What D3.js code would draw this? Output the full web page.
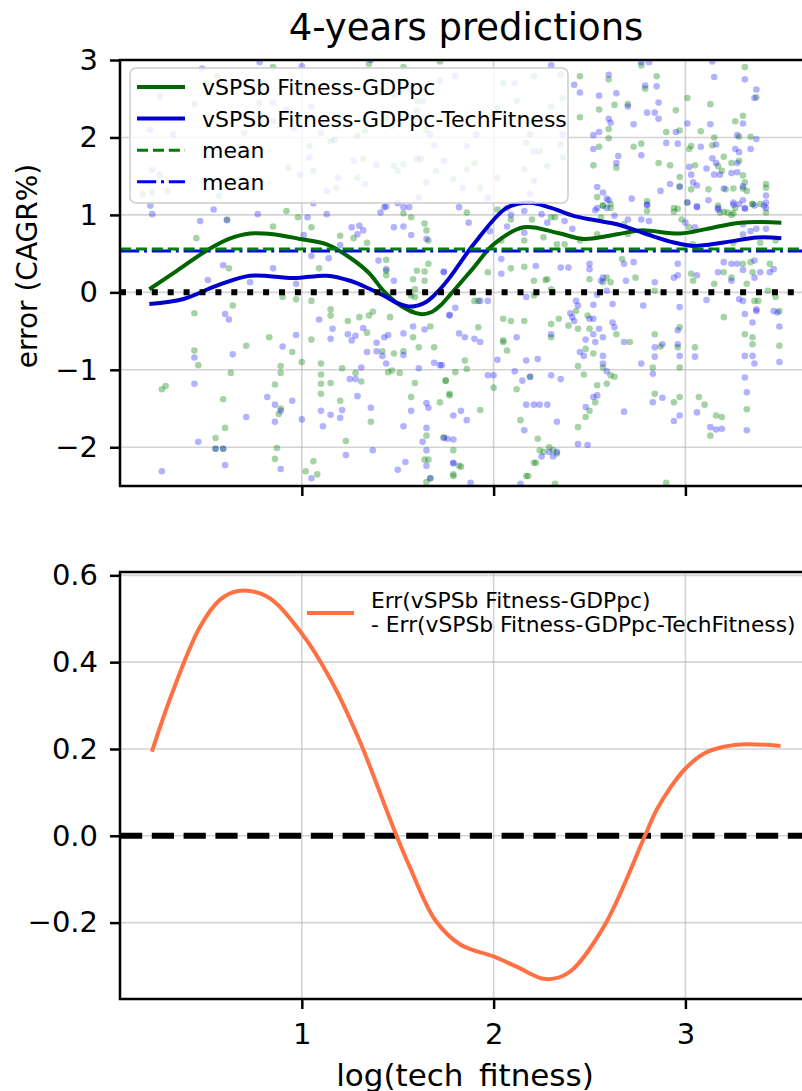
<!DOCTYPE html>
<html>

<head>
  <meta charset="UTF-8">
  <script src="https://d3js.org/d3.v7.min.js"></script>
  <style>
    body { margin: 0; background: #fff; overflow: hidden; }
    svg { display: block; font-family: "DejaVu Sans", sans-serif; }
  </style>
</head>

<body>
  <div id="chart"></div>

  <script>
    // data

    const xTicks = [1, 2, 3];
    const yTicksTop = [-2, -1, 0, 1, 2, 3];
    const yTicksBottom = [-0.2, 0, 0.2, 0.4, 0.6];

    const seriesNames = ['vSPSb Fitness-GDPpc', 'vSPSb Fitness-GDPpc-TechFitness'];
    const diffLabel = ['Err(vSPSb Fitness-GDPpc)', '- Err(vSPSb Fitness-GDPpc-TechFitness)'];

    // smoothed error of each model
    const fitCurveX = [0.205, 0.35, 0.504, 0.62, 0.73, 0.85, 0.99, 1.13, 1.25, 1.35, 1.426, 1.52, 1.618, 1.68, 1.722, 1.774, 1.896, 2.0, 2.157, 2.33, 2.47, 2.644, 2.765, 2.974, 3.113, 3.287, 3.5];
    const fitCurveY = [0.04, 0.28, 0.54, 0.69, 0.76, 0.75, 0.69, 0.62, 0.45, 0.25, 0.02, -0.18, -0.28, -0.25, -0.17, -0.03, 0.32, 0.62, 0.84, 0.77, 0.69, 0.75, 0.80, 0.76, 0.82, 0.90, 0.90];

    const techCurveX = [0.205, 0.383, 0.557, 0.73, 0.957, 1.13, 1.252, 1.35, 1.426, 1.5, 1.566, 1.65, 1.72, 1.774, 1.896, 2.07, 2.19, 2.3, 2.417, 2.53, 2.644, 2.8, 2.94, 3.044, 3.2, 3.374, 3.5];
    const techCurveY = [-0.15, -0.085, 0.086, 0.215, 0.185, 0.215, 0.15, 0.05, -0.04, -0.14, -0.184, -0.12, 0.04, 0.2, 0.62, 1.094, 1.158, 1.09, 0.987, 0.93, 0.88, 0.75, 0.644, 0.60, 0.644, 0.708, 0.70];

    const meanFit = 0.56;
    const meanTech = 0.535;

    // difference of the two smoothed errors
    const diffX = [0.218, 0.33, 0.47, 0.574, 0.669, 0.818, 0.991, 1.15, 1.3, 1.454, 1.494, 1.561, 1.695, 1.828, 2.0, 2.122, 2.269, 2.389, 2.575, 2.789, 2.85, 2.92, 3.0, 3.1, 3.2, 3.322, 3.496];
    const diffY = [0.194, 0.336, 0.482, 0.544, 0.564, 0.551, 0.471, 0.36, 0.22, 0.045, 0.0, -0.07, -0.194, -0.251, -0.278, -0.302, -0.33, -0.316, -0.209, 0.0, 0.06, 0.11, 0.155, 0.19, 0.205, 0.211, 0.207];

    // residuals, [log(tech fitness), error]
    const fitPoints = [
      [0.45,0.70],[0.61,0.94],[0.85,0.85],[0.98,0.97],[1.05,0.84],[1.20,0.73],[1.27,0.70],[1.34,0.64],[1.53,1.02],[1.57,0.97],[1.64,0.89],[1.65,0.80],[1.66,0.67],[1.09,0.31],[0.62,0.31],[0.44,-0.27],[0.64,-0.17],[0.90,-0.06],[0.97,-0.09],[1.05,-0.11],[1.15,-0.22],[1.15,-0.30],[1.24,-0.37],[1.30,-0.32],[1.34,-0.52],[1.35,-0.30],[1.37,-0.25],[1.46,-0.32],[1.44,0.42],[1.44,0.28],[1.44,0.22],[1.60,0.28],[1.58,0.17],[1.64,0.15],[1.64,0.27],[1.66,0.37],[1.59,0.04],[1.57,-0.04],[1.59,-0.06],[1.67,-0.44],[1.58,-0.58],[1.61,-0.71],[1.69,-0.71],[1.57,-0.24],[0.83,-0.58],[0.71,-0.69],[0.95,-0.77],[1.00,-0.90],[1.05,-0.61],[1.10,-0.92],[1.15,-1.17],[1.10,-1.06],[1.10,-1.18],[1.10,-1.31],[0.89,-0.95],[0.89,-1.04],[0.63,-1.04],[0.44,-0.75],[0.46,-0.94],[0.29,-1.21],[0.27,-1.25],[0.86,-1.19],[0.59,-1.38],[0.60,-1.75],[0.55,-1.88],[0.55,-2.02],[0.59,-2.02],[0.88,-1.57],[0.89,-1.50],[1.20,-1.40],[1.23,-1.92],[1.36,-1.67],[1.42,-0.76],[1.48,-0.79],[1.53,-0.76],[1.59,-1.17],[1.72,-1.42],[1.75,-1.14],[1.77,-1.31],[1.57,-1.35],[1.65,-1.85],[1.64,-2.16],[1.66,-2.16],[1.67,-2.40],[1.65,-2.45],[1.06,-2.18],[1.02,-2.31],[1.08,-2.35],[0.86,-2.15],[0.87,-2.01],[1.28,-1.04],[1.31,-1.15],[1.21,-0.98],[1.45,-1.03],[1.47,-1.01],[1.51,-1.04],
      [1.86,1.03],[2.02,1.07],[2.09,0.94],[2.04,0.67],[2.16,0.67],[2.20,0.94],[2.30,0.97],[2.32,0.97],[2.26,0.71],[2.33,0.62],[2.37,0.62],[2.45,0.67],[2.54,0.75],[2.56,0.97],[2.57,1.12],[2.61,1.14],[2.68,0.88],[2.70,0.75],[2.80,1.05],[2.94,1.09],[2.98,0.94],[3.02,0.84],[3.04,0.62],[3.17,1.12],[3.18,1.03],[3.24,1.00],[3.25,1.02],[3.35,1.14],[3.39,1.14],[3.25,0.64],[3.39,0.64],[3.47,0.67],[1.97,0.26],[2.09,0.31],[2.16,0.33],[2.21,0.15],[2.28,0.17],[2.30,0.04],[2.50,0.17],[2.59,0.19],[2.57,0.13],[2.61,0.13],[2.67,0.43],[2.74,0.19],[2.84,0.02],[3.03,0.24],[3.04,0.15],[3.15,0.11],[3.20,0.26],[3.24,0.19],[3.30,0.37],[3.34,0.39],[3.35,0.26],[3.44,0.37],[3.43,0.02],[3.32,0.11],[3.36,-0.11],[3.38,-0.11],[1.90,-0.11],[1.92,-0.11],[2.05,-0.34],[2.16,-0.37],[2.21,-0.04],[2.27,0.16],[2.30,-0.41],[2.34,-0.34],[2.39,-0.43],[2.44,-0.47],[2.48,-0.73],[2.43,-0.24],[2.49,-0.30],[2.50,-0.47],[2.52,-0.79],[2.57,-0.97],[2.59,-1.18],[2.61,-1.07],[2.63,-1.09],[2.54,-1.20],[2.53,-1.42],[2.44,-1.74],[2.48,-1.61],[2.50,-1.53],[2.44,-0.95],[2.47,-1.06],[2.64,-0.54],[2.71,-0.64],[2.84,-0.54],[2.87,-0.70],[2.83,-0.97],[2.84,-1.31],[2.94,-1.42],[2.97,-1.35],[2.97,-0.45],[2.96,-0.71],[2.97,-0.97],[3.05,-0.71],[3.07,-1.35],[3.10,-1.45],[3.16,-1.59],[3.19,-1.61],[3.13,-1.85],[3.20,-0.32],[3.31,-0.54],[3.35,-0.58],[3.35,-0.67],[3.49,-0.24],[3.49,-0.69],[3.47,-0.06],[3.32,-1.51],[2.05,-0.62],[2.05,-0.64],[2.07,-0.75],[2.00,-1.23],[1.93,-1.52],[2.12,-1.25],[2.19,-1.09],[2.14,-1.65],[2.23,-1.89],[2.21,-2.20],[2.24,-2.04],[2.29,-2.00],[2.33,-2.08],[2.32,-2.47],[2.31,-2.04],[2.17,-2.37],[1.75,-1.14],[1.77,-1.33],[1.80,-1.03],[1.85,-0.88],[1.86,-0.99],[1.92,-0.45],[1.79,-2.04],[1.83,-2.25],[1.79,-2.35],[1.79,-2.37],[1.74,-1.87],[2.09,-0.37],[2.30,-0.58],[2.90,-2.46],
      [0.85,2.91],[1.35,2.95],[1.53,2.91],[1.72,2.98],[2.05,2.70],[2.21,2.79],[2.35,2.81],[2.45,2.79],[2.12,2.47],[2.36,2.51],[2.02,2.38],[2.00,2.30],[2.30,2.40],[2.21,2.23],[2.19,2.04],[2.17,1.93],[2.36,1.74],[2.28,1.63],[2.16,1.59],[1.90,1.67],[1.60,2.47],[1.60,2.34],[1.44,2.25],[1.47,2.15],[1.33,2.08],[1.29,2.02],[1.18,2.15],[1.15,1.95],[1.04,1.89],[0.93,1.61],[1.06,1.57],[1.29,1.48],[1.18,1.35],[1.32,1.72],[1.48,1.63],[1.53,1.65],[1.50,1.57],[1.62,1.72],[1.70,1.57],[1.79,1.46],[1.86,1.59],[1.93,1.35],[2.02,1.48],[1.65,2.10],[0.44,2.43],[0.17,1.27],[0.22,1.29],[0.30,1.31],[0.57,1.25],[0.75,1.33],[0.92,1.05],[0.50,2.70],[0.56,2.79],[2.24,1.82],
      [2.77,2.93],[2.60,2.75],[2.85,2.79],[2.79,2.63],[2.55,2.36],[2.63,2.42],[2.70,2.43],[2.45,2.26],[2.60,2.11],[2.60,1.99],[2.55,1.88],[2.73,1.88],[2.77,1.92],[2.52,1.64],[2.64,1.61],[2.86,1.67],[2.92,1.64],[2.90,2.07],[2.97,2.09],[2.95,2.35],[3.01,2.51],[3.13,2.43],[3.08,2.08],[3.15,2.00],[3.14,1.90],[3.20,1.75],[3.17,1.63],[3.19,1.57],[3.24,1.67],[3.28,1.70],[3.30,1.51],[3.05,1.64],[3.02,1.85],[3.03,1.89],[2.97,1.49],[2.97,1.37],[3.03,1.33],[3.12,1.33],[3.21,1.33],[3.25,1.34],[3.30,1.34],[3.32,1.31],[3.31,1.42],[3.35,1.14],[3.42,1.40],[3.42,1.35],[3.42,1.03],[3.37,2.52],[3.31,2.91],[3.26,2.21],[3.30,2.28],[3.34,2.01],[3.28,2.01],[2.54,1.23],[2.57,1.12],[2.61,1.09],[2.80,1.18],[2.96,1.08],[2.94,1.04],[3.01,1.16],[3.20,1.04],[3.22,1.03],[3.26,1.09],
      [2.18,-2.37],[2.22,-2.20],[1.82,-2.24],[2.26,-2.06]
    ];

    const techPoints = [
      [0.22,1.01],[0.47,0.92],[0.61,0.93],[0.77,1.01],[1.03,0.97],[1.13,1.01],[1.43,1.10],[1.50,1.15],[1.56,1.10],[1.26,0.84],[1.30,0.86],[1.32,0.80],[1.29,0.75],[1.41,1.03],[1.48,0.84],[1.53,0.85],[1.57,0.74],[1.65,0.69],[1.01,0.74],[1.05,0.47],[0.85,0.31],[0.59,0.35],[0.51,0.16],[0.73,0.13],[0.97,0.11],[1.14,0.44],[1.20,0.61],[1.40,0.41],[1.44,0.30],[1.48,0.15],[1.74,0.27],[0.60,-0.28],[0.62,-0.35],[1.09,-0.35],[1.16,-0.47],[1.15,-0.60],[0.97,-0.55],[0.90,-0.70],[0.64,-0.80],[0.44,-0.84],[0.44,-1.18],[0.82,-1.35],[0.86,-1.45],[0.89,-1.53],[0.95,-1.40],[1.00,-1.64],[1.10,-1.53],[1.11,-1.73],[0.86,-1.67],[1.15,-1.58],[1.21,-1.52],[1.20,-1.62],[1.25,-1.12],[1.28,-1.12],[1.29,-1.34],[1.31,-0.97],[1.36,-1.49],[1.34,-0.77],[1.39,-0.76],[1.42,-0.82],[1.44,-0.92],[1.45,-0.55],[1.53,-0.53],[1.53,-0.81],[1.58,-0.44],[1.64,-0.48],[1.61,-0.98],[1.69,-0.91],[1.72,-0.94],[1.57,-1.53],[1.65,-1.43],[1.66,-1.49],[1.53,-1.73],[1.65,-1.75],[1.63,-1.93],[1.65,-2.04],[1.37,-2.04],[1.23,-2.10],[1.39,-0.65],[1.43,-0.58],[0.46,-1.93],[0.60,-2.23],[0.27,-2.31],[0.89,-2.28],[1.05,-2.40],[1.50,-2.29],[1.74,-1.88],[1.06,1.15],[0.71,-1.61],[1.26,-0.62],[1.24,-0.54],[1.28,-0.56],[1.32,-0.46],[1.77,-0.29],[1.65,-2.24],
      [1.82,1.10],[1.87,0.90],[2.09,1.00],[2.07,0.85],[1.98,0.79],[2.16,0.77],[2.25,1.01],[2.28,0.90],[2.37,0.92],[2.41,0.82],[2.54,1.09],[2.59,1.09],[2.63,0.99],[2.70,0.94],[2.77,0.94],[2.81,0.92],[2.80,1.13],[3.01,1.16],[3.06,1.10],[3.00,0.90],[3.05,0.84],[3.17,1.09],[3.25,1.13],[3.31,1.09],[3.36,1.12],[3.41,1.12],[3.30,0.88],[3.34,0.79],[3.37,0.82],[3.42,0.82],[3.30,0.75],[1.74,0.26],[1.80,-0.20],[1.77,-0.30],[1.97,-0.11],[1.93,-0.11],[2.04,0.43],[2.04,0.24],[2.22,0.34],[2.35,0.32],[2.39,0.32],[2.17,-0.06],[2.50,0.37],[2.50,0.30],[2.56,0.15],[2.57,0.19],[2.54,-0.03],[2.59,0.02],[2.68,0.37],[2.69,0.15],[2.73,0.39],[2.84,0.13],[2.94,0.19],[2.96,0.37],[2.96,0.22],[3.06,0.22],[3.11,-0.10],[3.17,0.26],[3.20,0.39],[3.24,0.37],[3.24,0.15],[3.27,0.37],[3.30,0.29],[3.36,0.19],[3.39,0.26],[3.44,0.26],[3.46,0.30],[3.36,0.41],[3.30,-0.11],[3.37,-0.22],[3.46,-0.24],[3.48,-0.26],[2.43,-0.11],[2.44,-0.17],[2.52,-0.16],[2.62,-0.15],[2.78,-0.17],[2.97,-0.19],[3.28,-0.09],[3.31,-0.28],[3.35,-0.39],[3.37,-0.24],[3.49,-0.44],[3.49,-0.90],[3.35,-0.82],[3.31,-0.82],[3.31,-1.10],[3.32,-1.29],[3.32,-1.78],[3.36,-0.92],[3.05,-0.83],[2.96,-0.67],[2.96,-0.49],[2.97,-0.82],[2.84,-0.83],[2.88,-0.67],[2.84,-0.71],[2.77,-0.92],[2.83,-1.05],[2.83,-1.42],[2.88,-1.36],[2.94,-1.66],[2.97,-1.59],[3.06,-1.55],[3.13,-1.74],[3.16,-1.77],[3.19,-1.76],[2.40,-0.27],[2.41,-0.32],[2.42,-0.37],[2.45,-0.77],[2.48,-0.61],[2.47,-0.82],[2.52,-0.54],[2.53,-0.64],[2.55,-0.47],[2.57,-0.58],[2.57,-0.82],[2.57,-0.92],[2.59,-1.02],[2.63,-0.45],[2.62,-0.39],[2.68,-0.64],[2.68,-1.54],[2.48,-1.48],[2.54,-1.33],[2.52,-1.35],[2.49,-1.97],[2.35,-1.12],[2.30,-1.07],[2.33,-1.67],[2.28,-1.45],[2.21,-1.45],[2.24,-1.45],[2.17,-1.45],[2.16,-1.78],[2.15,-1.14],[2.19,-1.09],[2.12,-0.58],[2.17,-0.88],[2.23,-0.86],[2.11,-1.02],[2.02,-0.87],[2.00,-1.07],[1.97,-1.07],[1.93,-0.64],[1.90,-0.60],[1.85,-0.58],[1.82,-0.53],[1.86,-1.65],[1.79,-1.59],[1.83,-1.53],[1.79,-1.90],[1.76,-1.89],[1.79,-2.21],[1.88,-2.46],[2.14,-2.47],[2.29,-2.06],[2.33,-2.06],[2.31,-2.12],[2.25,-2.12],[2.50,-0.34],[2.52,-0.34],[2.30,-0.54],[1.73,-0.94],
      [0.48,2.89],[0.78,2.97],[1.00,2.92],[1.36,3.00],[1.80,2.79],[2.30,2.93],[2.11,2.70],[1.57,2.62],[1.63,2.47],[1.48,2.55],[1.41,2.58],[1.72,2.73],[0.26,2.53],[0.85,2.45],[0.78,2.45],[0.92,2.36],[1.05,2.40],[1.20,2.28],[1.67,2.04],[1.69,1.90],[2.21,1.82],[2.35,1.91],[2.36,2.04],[2.42,2.68],[0.22,1.58],[0.49,1.45],[0.54,1.07],[1.13,1.31],[1.19,1.48],[1.33,1.40],[1.44,1.11],[1.53,1.10],[1.61,1.22],[1.60,1.72],[1.65,1.42],[1.84,1.35],[1.97,1.22],[2.07,1.09],[2.16,1.05],[2.21,1.44],[2.19,1.27],[1.86,1.89],[1.74,1.70],[1.91,2.04],[1.27,1.70],[1.39,1.65],[1.17,1.97],[1.10,2.06],[0.96,2.12],[0.85,2.21],[0.70,2.06],[0.33,2.04],[0.21,2.10],[0.64,1.82],[0.21,1.12],[0.26,1.52],[0.99,1.52],[1.04,1.74],
      [2.60,2.81],[2.45,2.58],[2.55,2.54],[2.64,2.57],[2.79,2.67],[2.85,2.66],[2.86,2.45],[2.70,2.40],[2.60,2.24],[2.61,2.19],[2.73,2.17],[2.80,2.32],[2.84,2.32],[2.86,2.24],[2.52,2.03],[2.55,2.07],[2.52,1.85],[2.65,1.76],[2.64,1.67],[2.77,1.77],[2.90,1.93],[2.96,1.92],[2.95,2.07],[3.01,2.18],[3.13,2.17],[3.08,1.88],[3.16,1.91],[3.14,1.73],[3.16,1.67],[3.11,1.60],[3.15,1.52],[3.18,1.52],[3.24,1.54],[3.27,1.55],[3.27,1.67],[3.26,1.85],[3.28,1.81],[3.27,2.03],[3.30,2.18],[3.37,1.98],[3.34,1.85],[3.37,2.62],[3.36,2.51],[3.31,2.75],[3.15,2.78],[3.14,2.98],[3.02,1.62],[3.03,1.52],[3.04,1.42],[3.06,1.38],[2.92,1.40],[2.97,1.36],[2.87,1.31],[2.72,1.21],[2.80,1.13],[2.54,1.36],[2.57,1.29],[2.59,1.21],[2.60,1.19],[2.53,1.06],[3.06,1.11],[3.12,1.19],[3.17,1.07],[3.20,1.34],[3.25,1.16],[3.28,1.14],[3.30,1.19],[3.31,1.08],[3.30,1.37],[3.42,1.25],[3.42,1.16],[3.42,1.09],[2.81,2.97],[2.77,2.97],
      [0.55,-2.02],[0.59,-2.02],[1.54,-2.19],[1.67,-2.40],[1.79,-2.20],[2.44,-1.96]
    ];

    // set up

    const width = 802;
    const height = 1091;
    const font = 'DejaVu Sans';

    const svg = d3.select('#chart')
      .append('svg')
        .attr('width', width)
        .attr('height', height);

    // scales

    const x = d3.scaleLinear()
        .domain([0.052, 3.66])
        .range([120, 812]);

    const yTop = d3.scaleLinear()
        .domain([-2.5, 3])
        .range([486, 60]);

    const yBottom = d3.scaleLinear()
        .domain([-0.376, 0.6077])
        .range([999, 572]);

    const defs = svg.append('defs');

    // one panel: clip, grid, axes and frame
    function panel(id, y, yTicks, yFormat, xLabels) {
      const [y1, y0] = y.range();
      const [x0, x1] = x.range();

      defs.append('clipPath').attr('id', id)
        .append('rect')
          .attr('x', x0).attr('y', y0)
          .attr('width', x1 - x0).attr('height', y1 - y0);

      const grid = svg.append('g')
          .attr('stroke', '#b0b0b0')
          .attr('stroke-opacity', 0.55)
          .attr('stroke-width', 1.6)
          .attr('clip-path', `url(#${id})`);

      grid.selectAll('.gx')
        .data(xTicks)
        .join('line')
          .attr('x1', d => x(d)).attr('x2', d => x(d))
          .attr('y1', y0).attr('y2', y1);

      grid.selectAll('.gy')
        .data(yTicks)
        .join('line')
          .attr('x1', x0).attr('x2', x1)
          .attr('y1', d => y(d)).attr('y2', d => y(d));

      const plot = svg.append('g').attr('clip-path', `url(#${id})`);

      return { plot, y0, y1, x0, x1, draw: () => {
        svg.append('rect')
            .attr('x', x0).attr('y', y0)
            .attr('width', x1 - x0).attr('height', y1 - y0)
            .attr('fill', 'none')
            .attr('stroke', 'black')
            .attr('stroke-width', 2.5);

        svg.append('g')
            .attr('transform', `translate(${x0},0)`)
            .call(d3.axisLeft(y).tickValues(yTicks).tickFormat(yFormat).tickSize(10).tickPadding(12))
            .call(styleAxis);

        svg.append('g')
            .attr('transform', `translate(0,${y1})`)
            .call(d3.axisBottom(x).tickValues(xTicks)
              .tickFormat(xLabels ? d3.format('d') : () => '')
              .tickSize(10).tickPadding(14))
            .call(styleAxis);
      }};
    }

    function styleAxis(g) {
      g.select('.domain').remove();
      g.attr('font-size', 29).attr('font-family', font);
      g.selectAll('line').attr('stroke', 'black').attr('stroke-width', 2.5);
      g.selectAll('text').attr('fill', 'black');
    }

    // top panel

    const upper = panel('clipTop', yTop, yTicksTop, d3.format('d'), false);

    upper.plot.append('g')
      .selectAll('circle')
      .data(fitPoints)
      .join('circle')
        .attr('cx', d => x(d[0]))
        .attr('cy', d => yTop(d[1]))
        .attr('r', 3.3)
        .attr('fill', 'green')
        .attr('fill-opacity', 0.35);

    upper.plot.append('g')
      .selectAll('circle')
      .data(techPoints)
      .join('circle')
        .attr('cx', d => x(d[0]))
        .attr('cy', d => yTop(d[1]))
        .attr('r', 3.3)
        .attr('fill', 'blue')
        .attr('fill-opacity', 0.3);

    const lineTop = d3.line()
        .x(d => x(d[0]))
        .y(d => yTop(d[1]))
        .curve(d3.curveCatmullRom.alpha(0.5));

    upper.plot.append('path')
        .datum(d3.zip(fitCurveX, fitCurveY))
        .attr('d', lineTop)
        .attr('fill', 'none')
        .attr('stroke', '#006400')
        .attr('stroke-width', 4);

    upper.plot.append('path')
        .datum(d3.zip(techCurveX, techCurveY))
        .attr('d', lineTop)
        .attr('fill', 'none')
        .attr('stroke', '#0000cd')
        .attr('stroke-width', 4);

    const hlines = [
      { v: meanTech, color: 'blue', w: 3, dash: '19.2,4.8,3,4.8' },
      { v: meanFit, color: 'green', w: 3, dash: '11.1,4.8' },
      { v: 0, color: 'black', w: 6, dash: '6,9.9' }
    ];

    upper.plot.selectAll('.hl')
      .data(hlines)
      .join('line')
        .attr('x1', upper.x0).attr('x2', upper.x1)
        .attr('y1', d => yTop(d.v)).attr('y2', d => yTop(d.v))
        .attr('stroke', d => d.color)
        .attr('stroke-width', d => d.w)
        .attr('stroke-dasharray', d => d.dash);

    // legend

    const legend = svg.append('g').attr('font-family', font).attr('font-size', 22);

    legend.append('rect')
        .attr('x', 130).attr('y', 68)
        .attr('width', 438).attr('height', 135)
        .attr('rx', 6)
        .attr('fill', 'white')
        .attr('fill-opacity', 0.8)
        .attr('stroke', '#cccccc')
        .attr('stroke-width', 1.5);

    const legendItems = [
      { label: seriesNames[0], color: '#006400', w: 4, dash: null },
      { label: seriesNames[1], color: '#0000cd', w: 4, dash: null },
      { label: 'mean', color: 'green', w: 3, dash: '11.1,4.8' },
      { label: 'mean', color: 'blue', w: 3, dash: '19.2,4.8,3,4.8' }
    ];

    const rows = legend.selectAll('.row')
      .data(legendItems)
      .join('g')
        .attr('transform', (d, i) => `translate(137,${87 + i * 31.6})`);

    rows.append('line')
        .attr('x1', 0).attr('x2', 48)
        .attr('stroke', d => d.color)
        .attr('stroke-width', d => d.w)
        .attr('stroke-dasharray', d => d.dash);

    rows.append('text')
        .attr('x', 65)
        .attr('dy', '0.37em')
        .text(d => d.label);

    upper.draw();

    // bottom panel

    const lower = panel('clipBottom', yBottom, yTicksBottom, d3.format('.1f'), true);

    lower.plot.append('line')
        .attr('x1', lower.x0).attr('x2', lower.x1)
        .attr('y1', yBottom(0)).attr('y2', yBottom(0))
        .attr('stroke', 'black')
        .attr('stroke-width', 6)
        .attr('stroke-dasharray', '22.2,9.6');

    lower.plot.append('path')
        .datum(d3.zip(diffX, diffY))
        .attr('d', d3.line()
          .x(d => x(d[0]))
          .y(d => yBottom(d[1]))
          .curve(d3.curveCatmullRom.alpha(0.5)))
        .attr('fill', 'none')
        .attr('stroke', '#ff7043')
        .attr('stroke-width', 4);

    const legend2 = svg.append('g').attr('font-family', font).attr('font-size', 21.8);

    legend2.append('line')
        .attr('x1', 307).attr('x2', 354)
        .attr('y1', 613).attr('y2', 613)
        .attr('stroke', '#ff7043')
        .attr('stroke-width', 4);

    legend2.selectAll('text')
      .data(diffLabel)
      .join('text')
        .attr('x', 371)
        .attr('y', (d, i) => 608 + i * 23.7)
        .text(d => d);

    lower.draw();

    // titles

    svg.append('text')
        .attr('x', 466).attr('y', 40)
        .attr('text-anchor', 'middle')
        .attr('font-family', font)
        .attr('font-size', 37)
        .text('4-years predictions');

    svg.append('text')
        .attr('transform', 'translate(37,266) rotate(-90)')
        .attr('text-anchor', 'middle')
        .attr('font-family', font)
        .attr('font-size', 28)
        .text('error (CAGR%)');

    svg.append('text')
        .attr('x', 465).attr('y', 1086)
        .attr('text-anchor', 'middle')
        .attr('font-family', font)
        .attr('font-size', 31)
        .text('log(tech_fitness)');
  </script>
</body>

</html>
